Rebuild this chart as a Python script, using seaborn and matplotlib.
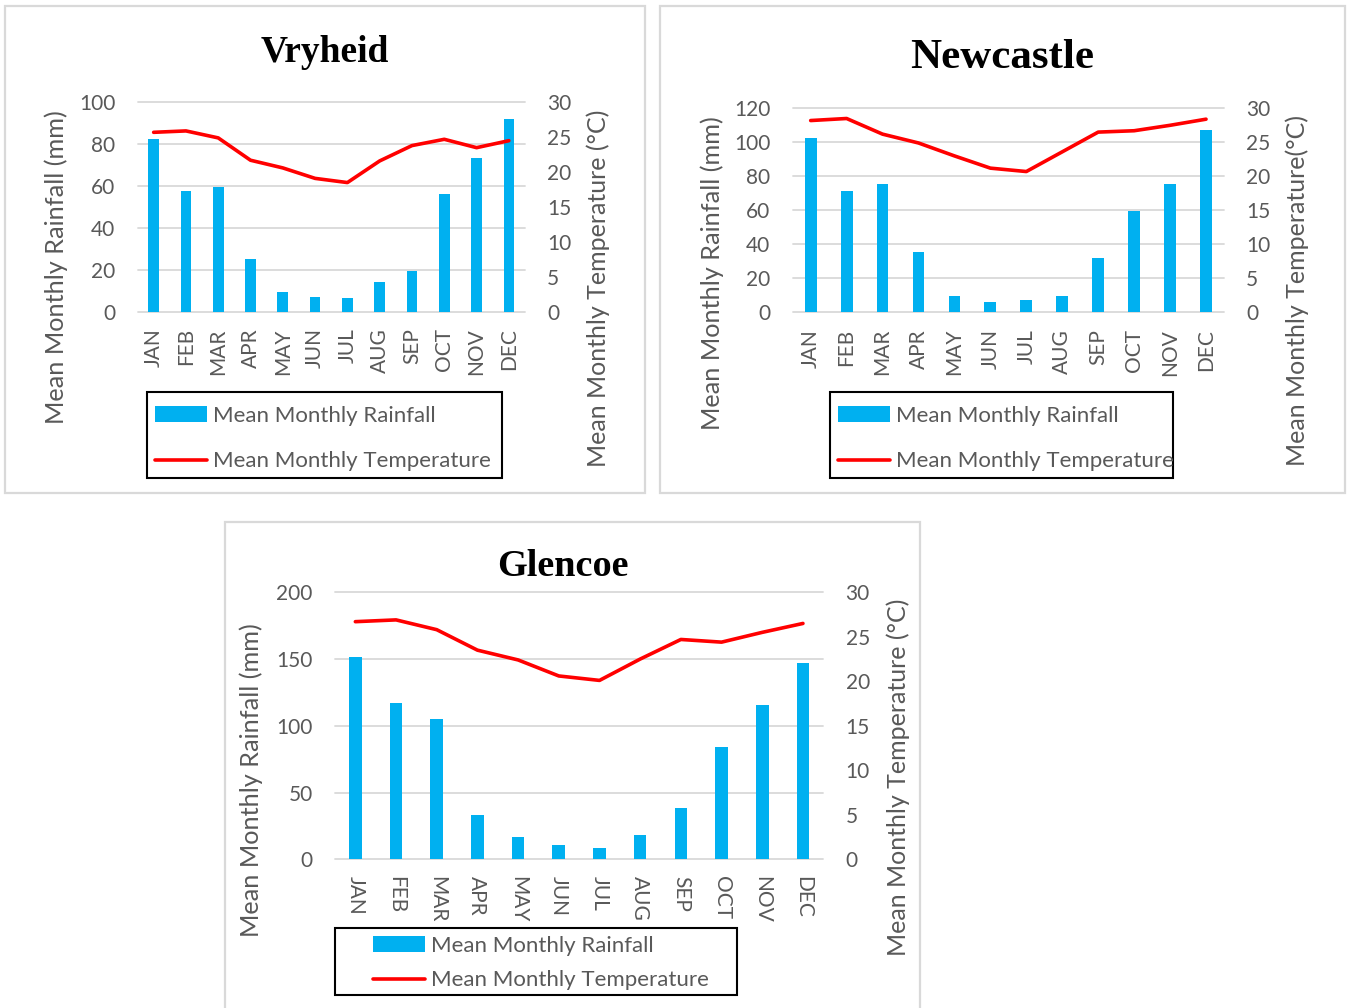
import numpy as np
import matplotlib
matplotlib.use("Agg")
import matplotlib.pyplot as plt
import seaborn as sns
from matplotlib.patches import Rectangle

# ---- data -------------------------------------------------------------
months = ["JAN", "FEB", "MAR", "APR", "MAY", "JUN",
          "JUL", "AUG", "SEP", "OCT", "NOV", "DEC"]

vryheid_rain = [82.3, 57.8, 59.4, 25.0, 9.4, 7.0, 6.4, 14.0, 19.4, 56.2, 73.4, 92.0]
vryheid_temp = [25.7, 25.9, 24.9, 21.7, 20.6, 19.1, 18.5, 21.6, 23.8, 24.7, 23.5, 24.5]

newcastle_rain = [102.7, 71.5, 75.3, 35.3, 9.4, 6.1, 7.2, 9.6, 31.9, 59.6, 75.6, 107.2]
newcastle_temp = [28.2, 28.5, 26.2, 24.9, 23.0, 21.2, 20.7, 23.6, 26.5, 26.7, 27.5, 28.4]

glencoe_rain = [151.8, 117.3, 104.9, 33.2, 16.5, 10.7, 8.2, 18.0, 38.2, 83.9, 115.6, 147.0]
glencoe_temp = [26.7, 26.9, 25.8, 23.5, 22.4, 20.6, 20.1, 22.5, 24.7, 24.4, 25.5, 26.5]

rain_label = "Mean Monthly Rainfall (mm)"
rain_legend = "Mean Monthly Rainfall"
temp_legend = "Mean Monthly Temperature"

# ---- style ------------------------------------------------------------
sns.set_style("white")
plt.rcParams["font.family"] = ["Lato", "DejaVu Sans"]

BAR = "#00B0F0"
LINE = "#FF0000"
GREY = "#595959"
GRID = "#D9D9D9"
LEG_FS = 16

W, H = 1352, 1008
fig = plt.figure(figsize=(W / 100, H / 100), dpi=100)


def fx(px):
    return px / W


def fy(py):
    return 1 - py / H


def panel(title, rain, temp, rain_max, rain_step, right_label, lay):
    l, t, r, b = lay["axes"]
    # outer panel frame
    pl, pt, pr, pb = lay["panel"]
    fig.add_artist(Rectangle((fx(pl), fy(pb)), (pr - pl) / W, (pb - pt) / H,
                             transform=fig.transFigure, fill=False,
                             edgecolor=GRID, lw=1.6))

    ax = fig.add_axes([fx(l), fy(b), (r - l) / W, (b - t) / H])
    ax2 = ax.twinx()

    sns.barplot(x=months, y=rain, ax=ax, color=BAR, saturation=1,
                width=lay["bar_w"], linewidth=0, label=rain_legend)
    sns.lineplot(x=np.arange(len(months)), y=temp, ax=ax2, color=LINE,
                 lw=2.6, label=temp_legend)
    for a in (ax, ax2):
        if a.get_legend() is not None:
            a.get_legend().remove()

    ax.set_xlim(-0.5, len(months) - 0.5)
    ax.set_ylim(0, rain_max)
    ax.set_yticks(np.arange(0, rain_max + 1, rain_step))
    ax2.set_ylim(0, 30)
    ax2.set_yticks(np.arange(0, 31, 5))

    ax.yaxis.grid(True, color=GRID, lw=1.3)
    for gl in ax.get_ygridlines():
        gl.set_clip_on(False)
    ax.set_axisbelow(True)
    for a in (ax, ax2):
        for s in a.spines.values():
            s.set_visible(False)

    ax.tick_params(axis="y", length=0, pad=16, labelsize=15, labelcolor=GREY)
    ax2.tick_params(axis="y", length=0, pad=16, labelsize=15, labelcolor=GREY)
    ax.tick_params(axis="x", length=0, pad=12, labelsize=15, labelcolor=GREY,
                   labelrotation=lay["rot"])
    ax.set_xlabel("")

    ax.set_ylabel(rain_label, fontsize=18.2, color=GREY, va="center", ha="center")
    cx, cy = lay["ylab_l"]
    ax.yaxis.set_label_coords((cx - l) / (r - l), (b - cy) / (b - t))
    ax2.set_ylabel(right_label, fontsize=18, color=GREY, va="center",
                   ha="center", rotation=90)
    cx, cy = lay["ylab_r"]
    ax2.yaxis.set_label_coords((cx - l) / (r - l), (b - cy) / (b - t))

    tx, ty, ts = lay["title"]
    fig.text(fx(tx), fy(ty), title, ha="center", va="baseline",
             fontsize=ts, fontweight="bold", family="Liberation Serif",
             color="black")

    # legend
    h1, l1 = ax.get_legend_handles_labels()
    h2, l2 = ax2.get_legend_handles_labels()
    hx, row1, row2 = lay["legend"]
    fs_px = LEG_FS * 100 / 72
    text_h = 0.88 * fs_px
    fig.legend(h1 + h2, l1 + l2, loc="upper left",
               bbox_to_anchor=(fx(hx), fy(row1 - 0.36 * fs_px)),
               bbox_transform=fig.transFigure, frameon=False,
               borderpad=0, borderaxespad=0, handlelength=2.35,
               handletextpad=0.27,
               labelspacing=(row2 - row1 - text_h) / fs_px,
               fontsize=LEG_FS, labelcolor=GREY)
    bl, bt, br, bb = lay["box"]
    fig.add_artist(Rectangle((fx(bl), fy(bb)), (br - bl) / W, (bb - bt) / H,
                             transform=fig.transFigure, fill=False,
                             edgecolor="black", lw=1.5))


panel("Vryheid", vryheid_rain, vryheid_temp, 100, 20,
      "Mean Monthly Temperature (\u00b0C)",
      dict(axes=(137.5, 102.3, 525, 311.7), panel=(5, 6, 645, 493),
           bar_w=0.33, rot=90, ylab_l=(56, 267), ylab_r=(598, 288),
           title=(325, 62, 27), legend=(155, 414, 459),
           box=(147, 392, 502, 478)))

panel("Newcastle", newcastle_rain, newcastle_temp, 120, 20,
      "Mean Monthly Temperature(\u00b0C)",
      dict(axes=(792.7, 108.3, 1224, 312.3), panel=(660, 6, 1345, 493),
           bar_w=0.33, rot=90, ylab_l=(712, 273), ylab_r=(1297, 291),
           title=(1002, 68, 31), legend=(838, 414, 459),
           box=(830, 392, 1173, 478)))

panel("Glencoe", glencoe_rain, glencoe_temp, 200, 50,
      "Mean Monthly Temperature (\u00b0C)",
      dict(axes=(335, 592.3, 823.3, 859.3), panel=(225, 522, 920, 1012),
           bar_w=0.31, rot=270, ylab_l=(251, 780), ylab_r=(898, 777),
           title=(563, 576, 27.5), legend=(373, 944, 978),
           box=(335, 928, 737, 995)))

fig.savefig("out.png", dpi=100, facecolor="white")
